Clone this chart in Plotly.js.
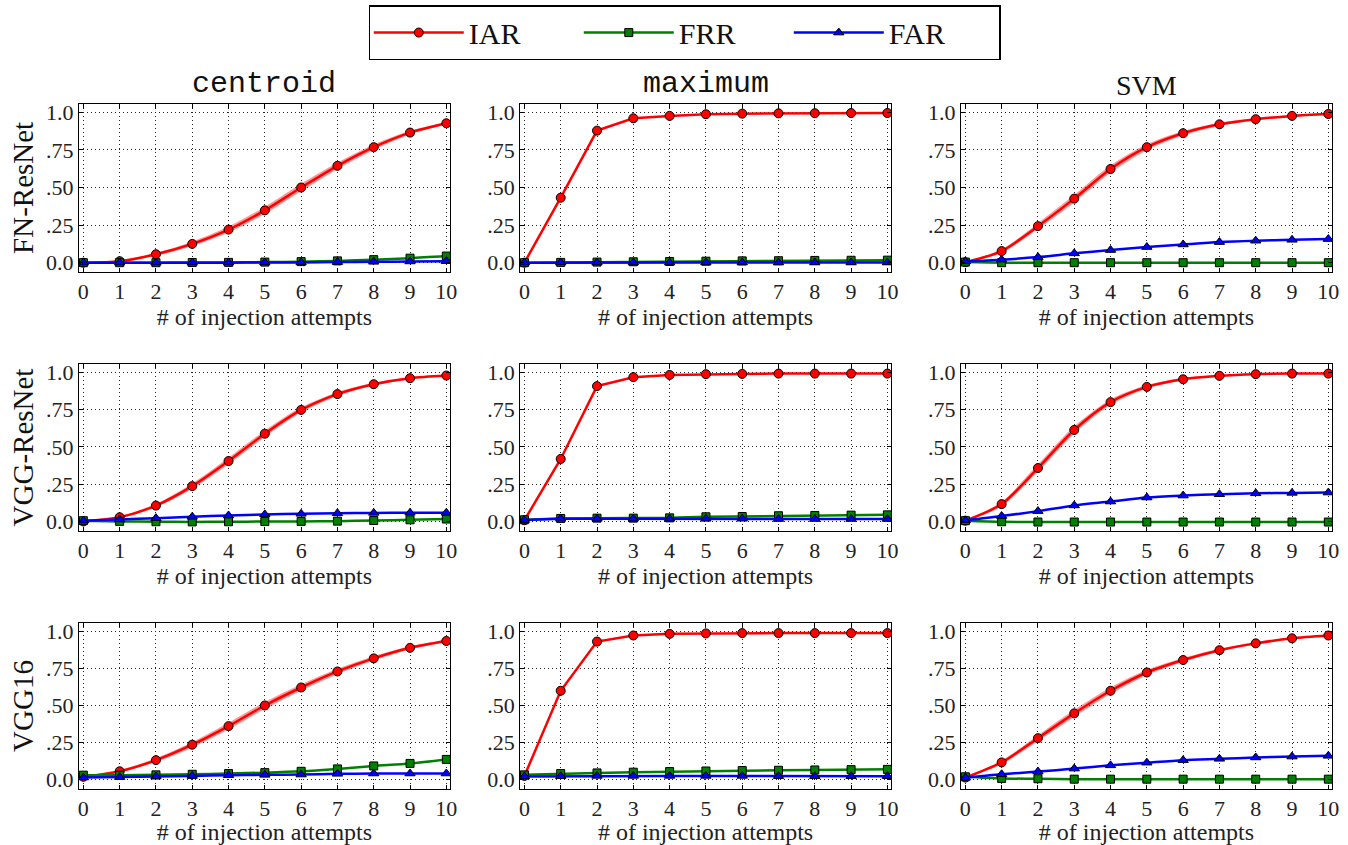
<!DOCTYPE html>
<html>
<head>
<meta charset="utf-8">
<script src="https://cdn.plot.ly/plotly-3.0.1.min.js"></script>
<style>html,body{margin:0;padding:0;background:#fff;}#chart{width:1348px;height:845px;}</style>
</head>
<body>
<div id="chart"></div>
<script>
// ---------- data ----------
const attempts = [0,1,2,3,4,5,6,7,8,9,10];
const models = ['FN-ResNet','VGG-ResNet','VGG16'];
const methods = ['centroid','maximum','SVM'];
const yTickVals = [0, 0.25, 0.5, 0.75, 1.0];
const yTickText = ['0.0', '.25', '.50', '.75', '1.0'];
const seriesNames = ['IAR','FRR','FAR'];

// FN-ResNet
const iar_fn_centroid = [0.0, 0.01, 0.056, 0.125, 0.22, 0.348, 0.5, 0.644, 0.768, 0.865, 0.927];
const frr_fn_centroid = [0.0, 0.0, 0.0, 0.001, 0.002, 0.004, 0.007, 0.012, 0.02, 0.03, 0.044];
const far_fn_centroid = [0.0, 0.0, 0.0, 0.0, 0.0, 0.001, 0.002, 0.004, 0.006, 0.008, 0.01];
const iarStd_fn_centroid = [0.002, 0.004, 0.01, 0.015, 0.02, 0.024, 0.025, 0.022, 0.018, 0.012, 0.009];

const iar_fn_maximum = [0.0, 0.432, 0.878, 0.96, 0.976, 0.987, 0.991, 0.993, 0.994, 0.995, 0.995];
const frr_fn_maximum = [0.0, 0.002, 0.004, 0.006, 0.008, 0.01, 0.012, 0.013, 0.015, 0.016, 0.017];
const far_fn_maximum = [0.0, 0.001, 0.001, 0.001, 0.001, 0.001, 0.001, 0.001, 0.001, 0.001, 0.001];
const iarStd_fn_maximum = [0.001, 0.008, 0.008, 0.005, 0.003, 0.002, 0.002, 0.001, 0.001, 0.001, 0.001];

const iar_fn_svm = [0.003, 0.077, 0.243, 0.426, 0.623, 0.768, 0.861, 0.92, 0.954, 0.976, 0.989];
const frr_fn_svm = [0.004, 0.0, 0.0, 0.0, 0.0, 0.0, 0.0, 0.0, 0.0, 0.0, 0.0];
const far_fn_svm = [0.008, 0.02, 0.037, 0.062, 0.084, 0.104, 0.121, 0.137, 0.146, 0.152, 0.157];
const iarStd_fn_svm = [0.003, 0.012, 0.02, 0.025, 0.025, 0.02, 0.015, 0.011, 0.008, 0.006, 0.005];

// VGG-ResNet
const iar_vr_centroid = [0.002, 0.03, 0.108, 0.238, 0.406, 0.589, 0.748, 0.854, 0.92, 0.96, 0.978];
const frr_vr_centroid = [0.007, 0.002, 0.0, -0.001, 0.0, 0.001, 0.002, 0.004, 0.008, 0.013, 0.018];
const far_vr_centroid = [0.007, 0.015, 0.024, 0.033, 0.042, 0.049, 0.053, 0.057, 0.059, 0.06, 0.06];
const iarStd_vr_centroid = [0.002, 0.006, 0.012, 0.018, 0.022, 0.022, 0.018, 0.013, 0.009, 0.006, 0.005];

const iar_vr_maximum = [0.01, 0.42, 0.907, 0.967, 0.982, 0.987, 0.989, 0.991, 0.991, 0.991, 0.991];
const frr_vr_maximum = [0.013, 0.022, 0.024, 0.024, 0.026, 0.033, 0.035, 0.04, 0.042, 0.044, 0.046];
const far_vr_maximum = [0.011, 0.02, 0.02, 0.02, 0.02, 0.02, 0.02, 0.018, 0.018, 0.018, 0.018];
const iarStd_vr_maximum = [0.002, 0.01, 0.008, 0.005, 0.003, 0.002, 0.002, 0.001, 0.001, 0.001, 0.001];

const iar_vr_svm = [0.007, 0.118, 0.359, 0.614, 0.8, 0.902, 0.953, 0.976, 0.987, 0.991, 0.991];
const frr_vr_svm = [0.007, 0.0, -0.002, -0.002, -0.002, -0.002, -0.002, -0.002, -0.002, -0.002, -0.002];
const far_vr_svm = [0.009, 0.038, 0.071, 0.109, 0.135, 0.162, 0.175, 0.184, 0.19, 0.193, 0.195];
const iarStd_vr_svm = [0.003, 0.015, 0.025, 0.025, 0.018, 0.012, 0.008, 0.005, 0.004, 0.003, 0.003];

// VGG16
const iar_v16_centroid = [0.02, 0.057, 0.132, 0.236, 0.361, 0.5, 0.621, 0.729, 0.817, 0.888, 0.934];
const frr_v16_centroid = [0.031, 0.031, 0.033, 0.037, 0.042, 0.048, 0.057, 0.073, 0.093, 0.11, 0.137];
const far_v16_centroid = [0.015, 0.018, 0.022, 0.026, 0.031, 0.033, 0.035, 0.04, 0.042, 0.042, 0.042];
const iarStd_v16_centroid = [0.004, 0.008, 0.013, 0.018, 0.022, 0.024, 0.022, 0.019, 0.015, 0.011, 0.008];

const iar_v16_maximum = [0.026, 0.599, 0.93, 0.971, 0.982, 0.985, 0.987, 0.987, 0.987, 0.987, 0.987];
const frr_v16_maximum = [0.033, 0.042, 0.046, 0.051, 0.055, 0.059, 0.062, 0.064, 0.066, 0.068, 0.07];
const far_v16_maximum = [0.022, 0.024, 0.026, 0.026, 0.026, 0.026, 0.026, 0.024, 0.024, 0.024, 0.024];
const iarStd_v16_maximum = [0.003, 0.012, 0.008, 0.005, 0.003, 0.002, 0.002, 0.001, 0.001, 0.001, 0.001];

const iar_v16_svm = [0.015, 0.117, 0.28, 0.447, 0.599, 0.722, 0.806, 0.872, 0.918, 0.952, 0.971];
const frr_v16_svm = [0.02, 0.009, 0.007, 0.004, 0.004, 0.004, 0.004, 0.004, 0.004, 0.004, 0.004];
const far_v16_svm = [0.015, 0.037, 0.055, 0.075, 0.097, 0.115, 0.132, 0.141, 0.15, 0.156, 0.161];
const iarStd_v16_svm = [0.003, 0.012, 0.02, 0.024, 0.022, 0.018, 0.014, 0.01, 0.008, 0.006, 0.005];

const panels = [
  [ [iar_fn_centroid, frr_fn_centroid, far_fn_centroid, iarStd_fn_centroid],
    [iar_fn_maximum, frr_fn_maximum, far_fn_maximum, iarStd_fn_maximum],
    [iar_fn_svm, frr_fn_svm, far_fn_svm, iarStd_fn_svm] ],
  [ [iar_vr_centroid, frr_vr_centroid, far_vr_centroid, iarStd_vr_centroid],
    [iar_vr_maximum, frr_vr_maximum, far_vr_maximum, iarStd_vr_maximum],
    [iar_vr_svm, frr_vr_svm, far_vr_svm, iarStd_vr_svm] ],
  [ [iar_v16_centroid, frr_v16_centroid, far_v16_centroid, iarStd_v16_centroid],
    [iar_v16_maximum, frr_v16_maximum, far_v16_maximum, iarStd_v16_maximum],
    [iar_v16_svm, frr_v16_svm, far_v16_svm, iarStd_v16_svm] ]
];

// ---------- styling ----------
const SERIF = 'Liberation Serif';
const MONO = 'Liberation Mono';
const colors = ['#ff0000', '#008000', '#0000ff'];
const symbols = ['circle', 'square', 'triangle-up'];
const msizes = [9, 8, 9];
const xDomains = [[0.0586, 0.3338], [0.3858, 0.6610], [0.7129, 0.9881]];
const yDomains = [[0.6781, 0.8769], [0.3716, 0.5692], [0.0663, 0.2627]];

const traces = [];
const layout = {
  width: 1348, height: 845,
  margin: {l: 0, r: 0, t: 0, b: 0},
  font: {family: SERIF, size: 21, color: '#222'},
  paper_bgcolor: '#fff', plot_bgcolor: '#fff',
  showlegend: true,
  legend: {
    orientation: 'h', x: 0.508, xanchor: 'center', y: 0.994, yanchor: 'top',
    bordercolor: '#000', borderwidth: 1.5, bgcolor: '#fff',
    font: {family: SERIF, size: 30, color: '#111'},
    itemwidth: 90, entrywidth: 105, entrywidthmode: 'pixels',
    tracegroupgap: 0
  },
  annotations: []
};

for (let r = 0; r < 3; r++) {
  for (let c = 0; c < 3; c++) {
    const idx = r * 3 + c + 1;
    const xa = 'x' + (idx === 1 ? '' : idx);
    const ya = 'y' + (idx === 1 ? '' : idx);
    const shape = c === 1 ? 'linear' : 'spline';
    const [iar, frr, far, sd] = panels[r][c];
    const lo = iar.map((v, i) => v - sd[i]);
    const hi = iar.map((v, i) => v + sd[i]);
    traces.push({x: attempts, y: lo, xaxis: xa, yaxis: ya, mode: 'lines',
      line: {width: 0, shape: shape, smoothing: 0.8}, showlegend: false, hoverinfo: 'skip'});
    traces.push({x: attempts, y: hi, xaxis: xa, yaxis: ya, mode: 'lines', fill: 'tonexty',
      fillcolor: 'rgba(255,0,0,0.4)', line: {width: 0, shape: shape, smoothing: 0.8},
      showlegend: false, hoverinfo: 'skip'});
    [iar, frr, far].forEach((ys, k) => {
      traces.push({
        x: attempts, y: ys, xaxis: xa, yaxis: ya, mode: 'lines+markers',
        name: seriesNames[k], legendgroup: seriesNames[k],
        showlegend: idx === 1,
        line: {color: colors[k], width: 2.5, shape: shape, smoothing: 0.8},
        marker: {symbol: symbols[k], size: msizes[k], color: colors[k], line: {color: '#000', width: 1}}
      });
    });
    const axCommon = {
      showline: true, linecolor: '#000', linewidth: 1, mirror: 'ticks',
      ticks: 'inside', ticklen: 4, tickcolor: '#000',
      showgrid: true, gridcolor: '#222', griddash: '1px,3px', gridwidth: 1,
      zeroline: false, tickfont: {family: SERIF, size: 22, color: '#222'}
    };
    layout['xaxis' + (idx === 1 ? '' : idx)] = Object.assign({}, axCommon, {
      domain: xDomains[c], anchor: ya, range: [-0.12, 10.1],
      tickvals: attempts, ticktext: attempts.map(String),
      title: {text: '# of injection attempts', font: {family: SERIF, size: 24, color: '#222'}, standoff: 3}
    });
    layout['yaxis' + (idx === 1 ? '' : idx)] = Object.assign({}, axCommon, {
      domain: yDomains[r], anchor: xa, range: [-0.062, 1.055],
      tickvals: yTickVals, ticktext: yTickText
    });
  }
}

// column titles
methods.forEach((m, c) => {
  layout.annotations.push({
    text: m, xref: 'paper', yref: 'paper',
    x: (xDomains[c][0] + xDomains[c][1]) / 2, y: yDomains[0][1] + 0.001,
    xanchor: 'center', yanchor: 'bottom', showarrow: false,
    font: {family: m === 'SVM' ? SERIF : MONO, size: m === 'SVM' ? 28 : 30, color: '#111'}
  });
});
// row labels
models.forEach((m, r) => {
  layout.annotations.push({
    text: m, xref: 'paper', yref: 'paper',
    x: 0.017, y: (yDomains[r][0] + yDomains[r][1]) / 2,
    xanchor: 'center', yanchor: 'middle', textangle: -90, showarrow: false,
    font: {family: SERIF, size: 29, color: '#111'}
  });
});

Plotly.newPlot('chart', traces, layout, {displayModeBar: false, staticPlot: true});
</script>
</body>
</html>
